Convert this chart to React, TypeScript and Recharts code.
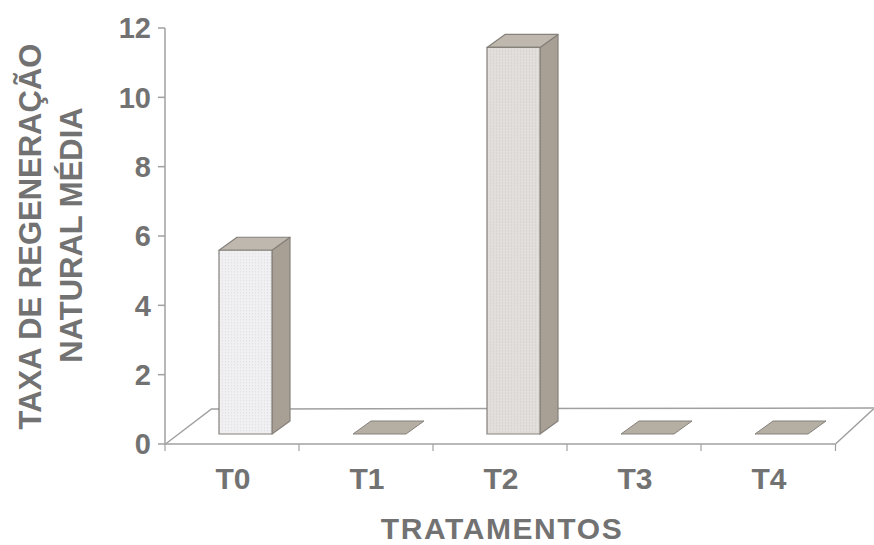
import React from "react";
import { BarChart, Bar, XAxis, YAxis } from "recharts";

const categories = ["T0", "T1", "T2", "T3", "T4"];
const values = [5.3, 0, 11.15, 0, 0];
const yTicks = [0, 2, 4, 6, 8, 10, 12];
const yTitleLines = ["TAXA DE REGENERAÇÃO", "NATURAL MÉDIA"];
const xTitle = "TRATAMENTOS";

const data = categories.map((c, i) => ({ name: c, value: values[i] }));

const FONT = "'Liberation Sans', Arial, sans-serif";
const TEXT = "#727272";
const AXIS = "#a0a0a0";
const BAND = 134;
const DX = 18;
const DY = 13;
const SHIFT_X = 13;
const SHIFT_Y = 10;

function Bar3D(props: any) {
  const { x, y, width, height, index } = props;
  const l = x + SHIFT_X;
  const r = l + width;
  const t = y - SHIFT_Y;
  const b = t + height;
  const edge = "#85817b";
  const front = index === 0 ? "#f0eff2" : "#e2dedb";
  const dots = index === 0 ? "#dcdbe0" : "#d0cbc6";
  if (height < 1) {
    return (
      <path
        d={`M${l},${b}L${r},${b}L${r + DX},${b - DY}L${l + DX},${b - DY}Z`}
        fill="#b5aea3"
        stroke={edge}
        strokeWidth={1}
      />
    );
  }
  const pid = `dots-${index}`;
  return (
    <g stroke={edge} strokeWidth={1.2} strokeLinejoin="round">
      <defs>
        <pattern id={pid} x={l} y={t} width={3} height={3} patternUnits="userSpaceOnUse">
          <rect width={3} height={3} fill={front} stroke="none" />
          <rect width={1} height={1} fill={dots} stroke="none" />
        </pattern>
      </defs>
      <path d={`M${r},${t}L${r + DX},${t - DY}L${r + DX},${b - DY}L${r},${b}Z`} fill="#a89f95" />
      <path d={`M${l},${t}L${l + DX},${t - DY}L${r + DX},${t - DY}L${r},${t}Z`} fill="#bfb8ae" />
      <rect x={l} y={t} width={width} height={height} fill={`url(#${pid})`} />
    </g>
  );
}

// Bar backgrounds are painted before the bars, so the perspective floor stays behind them.
function Floor(props: any) {
  const { x, y, width, height, index } = props;
  if (index !== 0) return <g />;
  const ax = x - (BAND - width) / 2;
  const bx = ax + BAND * categories.length;
  const by = y + height;
  return (
    <g>
      <path
        d={`M${ax},${by}L${ax + 46},${by - 35}L${bx + 39},${by - 36}L${bx},${by}`}
        fill="none"
        stroke={AXIS}
        strokeWidth={1.5}
      />
      <line x1={bx} y1={by} x2={bx} y2={by + 7} stroke={AXIS} strokeWidth={1.2} />
    </g>
  );
}

function XTick(props: any) {
  const { x, y, payload } = props;
  return (
    <g>
      <line x1={x - BAND / 2} y1={y - 8} x2={x - BAND / 2} y2={y - 1} stroke={AXIS} strokeWidth={1.2} />
      <text x={x + 1} y={y + 37} textAnchor="middle" fontFamily={FONT} fontWeight={700} fontSize={30} fill={TEXT}>
        {payload.value}
      </text>
    </g>
  );
}

function YTitle() {
  return (
    <g fontFamily={FONT} fontWeight={700} fontSize={31} fill={TEXT} textAnchor="middle">
      <text transform="translate(41,236.5) rotate(-90)">{yTitleLines[0]}</text>
      <text transform="translate(82,235) rotate(-90)">{yTitleLines[1]}</text>
    </g>
  );
}

function XTitle() {
  return (
    <text x={502} y={538.6} textAnchor="middle" fontFamily={FONT} fontWeight={700} fontSize={30} letterSpacing={1.6} fill={TEXT}>
      {xTitle}
    </text>
  );
}

export default function App() {
  return (
    <div style={{ position: "absolute", left: 0, top: 0, width: 874, height: 545, background: "#fff" }}>
      <BarChart
        width={874}
        height={545}
        data={data}
        margin={{ top: 28, right: 39, bottom: 0, left: 0 }}
        barCategoryGap={0}
      >
        <XAxis
          dataKey="name"
          height={101}
          stroke={AXIS}
          strokeWidth={1.5}
          tickLine={false}
          tick={<XTick />}
          interval={0}
          label={<XTitle />}
        />
        <YAxis
          width={165}
          domain={[0, 12]}
          ticks={yTicks}
          interval={0}
          stroke={AXIS}
          strokeWidth={1.5}
          tickSize={7}
          tickMargin={7}
          tick={{ fontFamily: FONT, fontWeight: 700, fontSize: 29, fill: TEXT }}
          label={<YTitle />}
        />
        <Bar
          dataKey="value"
          barSize={53}
          isAnimationActive={false}
          background={<Floor />}
          shape={<Bar3D />}
        />
      </BarChart>
    </div>
  );
}
